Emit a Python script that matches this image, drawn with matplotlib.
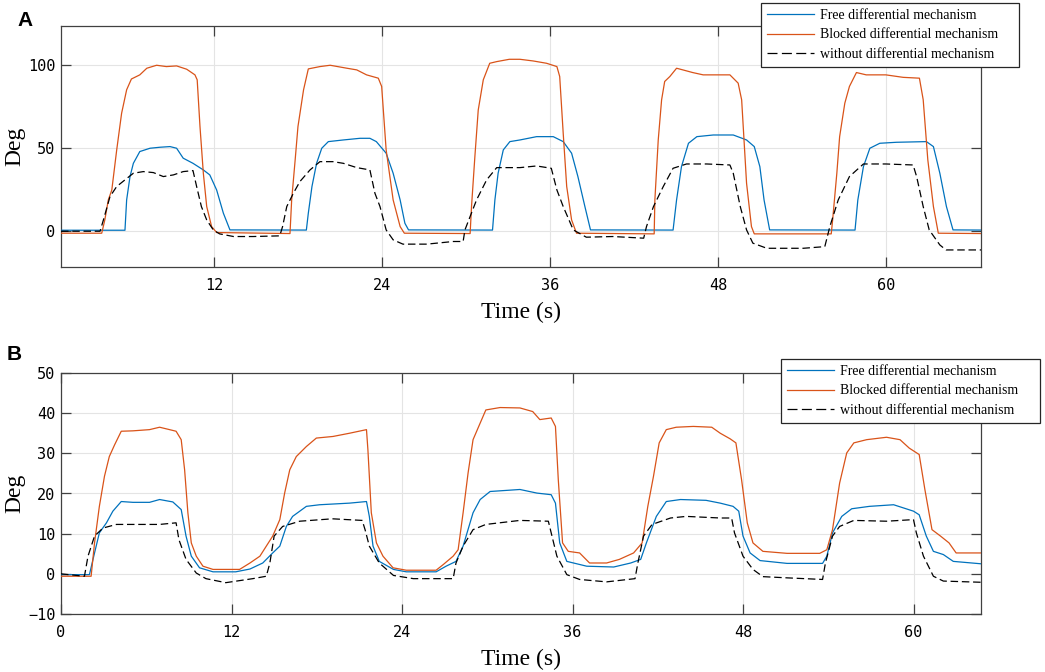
import matplotlib
matplotlib.use("Agg")
import matplotlib.pyplot as plt
from matplotlib.lines import Line2D

# ---------------- Panel A data ----------------
a_free_t = [1.07, 5.64, 5.76, 6.0, 6.24, 6.7, 7.43, 8.14, 8.86, 9.33, 9.8, 10.5, 11.24, 11.7, 12.19, 12.67, 13.14,
            18.6, 18.74, 19.0, 19.33, 19.7, 20.17, 21.24, 22.43, 23.14, 23.6, 24.3, 24.8, 25.3, 25.64, 25.9,
            31.9, 32.07, 32.3, 32.67, 33.14, 33.86, 35.05, 36.24, 36.95, 37.55, 38.0, 38.5, 38.9,
            44.8, 45.05, 45.4, 45.9, 46.5, 47.67, 49.1, 50.05, 50.6, 51.0, 51.3, 51.7,
            57.8, 58.0, 58.4, 58.86, 59.57, 60.76, 62.9, 63.4, 63.86, 64.33, 64.8, 66.8]
a_free_v = [0.2, 0.2, 18.5, 32.6, 40.6, 47.7, 49.7, 50.3, 50.7, 49.7, 43.7, 40.6, 36.6, 33.6, 24.5, 10.5, 0.4,
            0.3, 10.5, 26.6, 40.6, 49.7, 53.7, 54.7, 55.7, 55.7, 53.7, 46.7, 34.6, 18.5, 4.4, 0.4,
            0.3, 18.5, 34.6, 48.7, 53.7, 54.7, 56.7, 56.7, 53.7, 46.7, 32.6, 14.5, 0.4,
            0.3, 18.5, 38.6, 52.7, 56.7, 57.7, 57.7, 54.7, 50.7, 38.6, 18.5, 0.4,
            0.3, 18.5, 38.6, 49.7, 52.7, 53.3, 53.7, 50.7, 34.6, 14.5, 0.4, 0.3]

a_block_t = [1.07, 3.98, 4.2, 4.45, 4.7, 5.05, 5.4, 5.76, 6.1, 6.7, 7.2, 7.9, 8.6, 9.33, 10.05, 10.64, 10.8, 11.0,
             11.24, 11.48, 11.83, 12.19,
             17.43, 17.55, 17.8, 18.0, 18.4, 18.74, 19.57, 20.3, 21.5, 22.2, 22.9, 23.74, 23.98, 24.3, 24.8, 25.3, 25.6,
             30.3, 30.4, 30.64, 30.88, 31.24, 31.7, 32.2, 33.1, 33.86, 34.8, 35.76, 36.5, 36.7, 36.95, 37.2, 37.55, 37.9,
             43.45, 43.5, 43.74, 43.98, 44.2, 44.57, 45.05, 45.5, 46.2, 46.95, 48.1, 48.86, 49.45, 49.7, 50.05, 50.4, 50.6,
             56.1, 56.2, 56.5, 56.7, 57.07, 57.4, 57.9, 58.6, 60.0, 61.24, 62.4, 62.67, 63.0, 63.4, 63.75, 66.8]
a_block_v = [-1.6, -1.6, 6.4, 18.5, 24.5, 48.7, 70.8, 85.0, 91.5, 94.0, 98.0, 99.8, 99.0, 99.4, 97.4, 94.0, 91.0, 62.8,
             34.6, 14.5, 2.4, -1.2,
             -1.8, 18.5, 42.7, 62.8, 85.0, 97.6, 99.0, 99.8, 98.0, 97.0, 94.0, 92.0, 87.0, 48.7, 18.5, 2.4, -1.6,
             -1.8, 14.5, 44.7, 72.8, 91.0, 101.0, 102.0, 103.4, 103.4, 102.4, 101.0, 99.0, 93.0, 58.8, 26.6, 6.4, -1.6,
             -2.0, 18.5, 54.7, 78.9, 90.0, 93.0, 98.0, 97.0, 95.4, 94.0, 94.0, 94.0, 89.0, 78.9, 28.6, 2.4, -2.0,
             -2.0, 6.4, 34.6, 56.7, 76.9, 87.0, 95.4, 94.0, 94.0, 92.5, 92.0, 79.0, 42.7, 14.5, -1.6, -1.8]

a_none_t = [1.07, 3.86, 4.1, 4.57, 5.05, 5.64, 6.24, 6.95, 7.67, 8.38, 9.1, 9.8, 10.5, 10.76, 11.1, 11.48, 11.95,
            12.4, 13.4, 14.8, 16.7, 16.9, 17.2, 17.67, 18.14, 18.86, 19.57, 20.5, 21.24, 22.2, 23.14, 23.5, 23.86,
            24.3, 24.8, 25.5, 27.2, 29.1, 29.8, 29.93, 30.3, 30.76, 31.48, 32.2, 33.86, 35.05, 36.1, 36.5, 36.95,
            37.67, 38.6, 40.5, 42.7, 42.9, 43.4, 44.1, 44.8, 45.76, 47.2, 48.86, 49.1, 49.6, 50.05, 50.5, 51.5,
            54.1, 55.64, 56.0, 56.6, 57.4, 58.4, 60.0, 61.95, 62.2, 62.67, 63.1, 63.86, 64.3, 66.8]
a_none_v = [-0.4, -0.4, 6.4, 20.5, 26.6, 30.6, 34.6, 35.6, 35.0, 32.6, 33.6, 35.6, 36.2, 26.6, 14.5, 6.4, 0.4,
            -2.0, -3.6, -3.6, -3.2, 2.4, 14.5, 22.5, 29.6, 36.6, 41.6, 41.6, 40.6, 38.0, 36.6, 22.5, 14.5,
            0.4, -5.6, -8.2, -8.2, -6.6, -6.6, 0.4, 8.5, 18.5, 30.6, 38.0, 38.0, 39.0, 37.6, 24.5, 14.5,
            0.4, -4.0, -3.6, -4.6, 2.4, 14.5, 26.6, 37.6, 40.2, 40.2, 39.6, 34.6, 14.5, 0.4, -7.6, -10.7,
            -10.7, -9.7, 2.4, 18.5, 32.6, 40.2, 40.2, 39.6, 32.6, 14.5, 0.4, -8.7, -11.7, -11.7]

# ---------------- Panel B data ----------------
b_free_t = [0.0, 2.0, 2.36, 2.7, 3.2, 3.65, 4.24, 5.06, 6.23, 6.94, 7.87, 8.46, 8.8, 9.17, 9.75, 10.7, 12.3, 13.3,
            14.2, 14.9, 15.4, 15.86, 16.3, 17.27, 18.2, 20.3, 21.5, 21.7, 21.96, 22.4, 23.4, 24.3, 26.4, 27.1, 27.8,
            28.3, 29.0, 29.5, 30.2, 32.3, 33.5, 34.5, 34.8, 35.1, 35.6, 37.0, 38.9, 40.1, 40.8, 41.2, 41.9, 42.6,
            43.6, 45.4, 46.4, 47.3, 47.7, 48.0, 48.5, 49.2, 51.1, 53.6, 53.9, 54.3, 54.95, 55.65, 56.9, 58.6, 60.0,
            60.4, 60.9, 61.4, 62.1, 62.8, 64.75]
b_free_v = [-0.2, -0.2, 5.2, 10.2, 12.7, 15.6, 18.0, 17.8, 17.8, 18.5, 17.9, 16.0, 9.4, 4.4, 1.5, 0.5, 0.5, 1.2,
            2.7, 5.2, 6.9, 11.8, 14.3, 16.8, 17.2, 17.6, 18.0, 14.3, 6.9, 3.1, 1.1, 0.5, 0.5, 1.9, 3.1,
            6.9, 15.2, 18.5, 20.5, 21.0, 20.1, 19.7, 17.6, 7.7, 3.1, 1.9, 1.7, 2.7, 3.6, 7.7, 14.3, 18.0,
            18.5, 18.3, 17.6, 16.8, 15.6, 9.4, 5.2, 3.3, 2.6, 2.6, 4.4, 10.2, 14.3, 16.2, 16.8, 17.2, 15.6,
            14.7, 9.4, 5.6, 4.8, 3.1, 2.5]

b_block_t = [0.0, 2.12, 2.36, 2.7, 3.06, 3.4, 3.77, 4.24, 5.06, 6.23, 6.94, 7.64, 8.1, 8.46, 8.7, 8.93, 9.17, 9.52,
             9.99, 10.7, 12.57, 13.3, 14.0, 14.45, 14.9, 15.4, 15.74, 16.1, 16.56, 17.27, 17.97, 19.14, 20.3, 21.5,
             21.6, 21.84, 22.2, 22.66, 23.37, 24.3, 26.4, 26.9, 27.6, 27.95, 28.3, 28.65, 29.0, 29.4, 29.9, 30.9,
             32.3, 33.2, 33.7, 34.5, 34.8, 35.0, 35.3, 35.7, 36.5, 37.2, 38.4, 39.3, 40.3, 40.9, 41.3, 41.7, 42.1,
             42.6, 43.3, 44.5, 45.8, 46.4, 47.1, 47.5, 47.9, 48.3, 48.7, 49.4, 51.1, 53.4, 53.9, 54.3, 54.8, 55.3,
             55.8, 56.7, 58.1, 59.05, 59.7, 60.4, 60.8, 61.3, 61.9, 62.5, 63.0, 64.75]
b_block_v = [-0.6, -0.6, 7.7, 16.8, 24.3, 29.2, 32.1, 35.5, 35.6, 35.9, 36.5, 35.9, 35.5, 33.4, 25.9, 15.2, 7.7, 4.4,
             1.9, 1.1, 1.1, 2.7, 4.4, 6.9, 9.4, 13.5, 20.1, 25.9, 29.2, 31.7, 33.8, 34.2, 35.0, 35.9,
             30.9, 15.2, 7.7, 4.4, 1.5, 0.9, 0.9, 2.3, 4.4, 6.0, 15.2, 25.1, 33.4, 36.7, 40.8, 41.4,
             41.3, 40.4, 38.4, 38.8, 36.7, 23.4, 7.7, 5.6, 5.2, 2.7, 2.7, 3.6, 5.2, 7.7, 16.8, 24.3, 32.6,
             35.9, 36.5, 36.7, 36.5, 35.0, 33.6, 32.6, 23.4, 12.7, 7.7, 5.6, 5.1, 5.1, 6.0, 11.0, 22.6, 30.1,
             32.6, 33.4, 34.0, 33.4, 31.3, 29.7, 21.0, 11.0, 9.4, 7.7, 5.2, 5.2]

b_none_t = [0.0, 1.65, 1.9, 2.36, 2.95, 3.9, 5.06, 6.94, 8.1, 8.3, 8.8, 9.52, 10.2, 11.6, 13.5, 14.45, 14.7, 15.0,
            15.6, 16.8, 19.1, 21.2, 21.4, 21.7, 22.4, 23.4, 24.8, 27.6, 27.8, 28.3, 29.0, 29.9, 32.3, 34.3, 34.5,
            34.9, 35.6, 36.5, 38.4, 40.4, 40.6, 41.0, 41.6, 42.9, 44.0, 46.4, 47.2, 47.4, 48.0, 48.7, 49.4, 51.1,
            53.6, 53.8, 54.3, 54.8, 55.8, 58.1, 60.0, 60.2, 60.7, 61.4, 62.1, 64.75]
b_none_v = [0.0, -0.6, 4.4, 9.4, 11.4, 12.3, 12.3, 12.3, 12.7, 8.5, 3.6, 0.2, -1.2, -2.2, -1.2, -0.6, 2.7, 9.4,
            11.8, 13.1, 13.7, 13.3, 11.0, 6.9, 2.7, -0.4, -1.2, -1.2, 2.7, 6.9, 11.0, 12.3, 13.3, 13.1, 10.2,
            4.4, -0.2, -1.4, -2.0, -1.2, 2.7, 9.4, 12.3, 13.9, 14.3, 13.9, 13.9, 10.2, 4.4, 1.1, -0.7, -1.0,
            -1.4, 2.7, 9.4, 11.8, 13.3, 13.1, 13.5, 10.2, 4.4, -0.6, -1.8, -2.1]

legend_labels = ["Free differential mechanism", "Blocked differential mechanism",
                 "without differential mechanism"]
a_xticks = [12, 24, 36, 48, 60]
a_yticks = [0, 50, 100]
b_xticks = [0, 12, 24, 36, 48, 60]
b_yticks = [-10, 0, 10, 20, 30, 40, 50]

BLUE = "#0072BD"
ORANGE = "#D95319"
SPINE = "#404040"
W, H = 1045, 672

fig = plt.figure(figsize=(W / 100, H / 100), dpi=100)


def px_axes(l, t, r, b):
    return fig.add_axes([l / W, 1 - b / H, (r - l) / W, (b - t) / H])


def style(ax, xlim, ylim, xt, yt):
    ax.set_xlim(*xlim)
    ax.set_ylim(*ylim)
    ax.set_xticks(xt)
    ax.set_yticks(yt)
    ax.grid(True, color="#e4e4e4", linewidth=0.8)
    ax.set_axisbelow(True)
    for s in ax.spines.values():
        s.set_color(SPINE)
        s.set_linewidth(0.9)
    ax.tick_params(direction="in", length=7, width=0.9, color=SPINE, top=True, right=True,
                   labelsize=11, labelcolor="black")
    ax.tick_params(axis="x", pad=8)
    ax.tick_params(axis="y", pad=4)
    for lab in ax.get_xticklabels() + ax.get_yticklabels():
        lab.set_family("DejaVu Sans Mono")
    ax.set_xlabel("Time (s)", family="Liberation Serif", fontsize=17, labelpad=6)
    ax.set_ylabel("Deg", family="Liberation Serif", fontsize=17, labelpad=2)


def draw(ax, ft, fv, bt, bv, nt, nv):
    ax.plot(ft, fv, color=BLUE, lw=0.9, zorder=3)
    ax.plot(bt, bv, color=ORANGE, lw=0.9, zorder=3)
    ax.plot(nt, nv, color="black", lw=0.9, dashes=(6, 3), zorder=3)


def legend(ax, l, t, r, b):
    handles = [Line2D([], [], color=BLUE, lw=0.9),
               Line2D([], [], color=ORANGE, lw=0.9),
               Line2D([], [], color="black", lw=0.9, dashes=(8, 3.5))]
    leg = ax.legend(handles, legend_labels, loc="upper left",
                    bbox_to_anchor=(l / W, 1 - b / H, (r - l) / W, (b - t) / H),
                    bbox_transform=fig.transFigure, mode="expand", borderaxespad=0,
                    prop={"family": "Liberation Serif", "size": 10}, handlelength=3.4,
                    handletextpad=0.4, labelspacing=0.45, borderpad=0.45, fancybox=False,
                    framealpha=1, edgecolor="#262626")
    leg.get_frame().set_linewidth(0.9)
    leg.set_zorder(10)


axA = px_axes(61, 26, 981, 267)
draw(axA, a_free_t, a_free_v, a_block_t, a_block_v, a_none_t, a_none_v)
style(axA, (1.07, 66.8), (-22, 123.5), a_xticks, a_yticks)
legend(axA, 761, 3, 1019, 65)

axB = px_axes(61, 373, 981, 614)
draw(axB, b_free_t, b_free_v, b_block_t, b_block_v, b_none_t, b_none_v)
style(axB, (0, 64.75), (-10, 50), b_xticks, b_yticks)
legend(axB, 781, 359, 1040, 421)

fig.text(17 / W, 1 - 21 / H, "A", family="Liberation Sans", weight="bold", fontsize=15, va="center", ha="left")
fig.text(7 / W, 1 - 355 / H, "B", family="Liberation Sans", weight="bold", fontsize=15, va="center", ha="left")

fig.savefig("out.png", dpi=100)
